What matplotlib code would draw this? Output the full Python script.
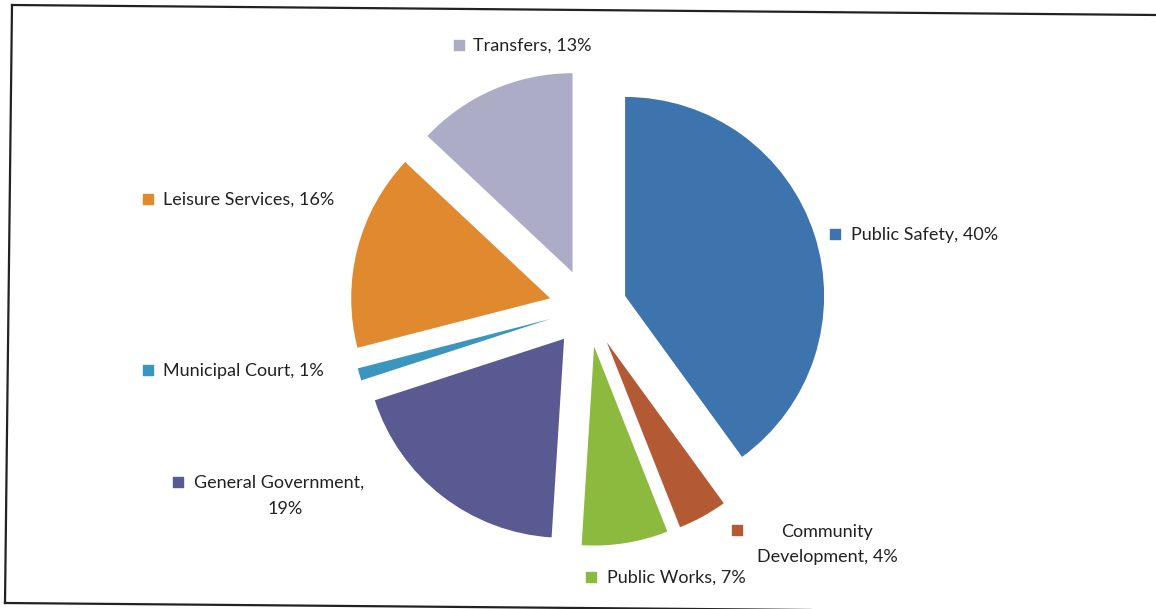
import matplotlib.pyplot as plt
from matplotlib.lines import Line2D

# slices, clockwise from 12 o'clock
categories = ["Public Safety", "Community\nDevelopment", "Public Works",
              "General Government,\n", "Municipal Court", "Leisure Services", "Transfers"]
shares = [40, 4, 7, 19, 1, 16, 13]
colors = ["#3e74ad", "#b35a35", "#8bba3e", "#5a5a92", "#3a95bf", "#e0892e", "#acacc6"]

plt.rcParams["font.family"] = ["Lato", "DejaVu Sans"]

W, H = 1156, 609
R = 199
fig = plt.figure(figsize=(W / 100, H / 100), dpi=100)
ax = fig.add_axes([0, 0, 1, 1])
ax.set_xlim(0, W)
ax.set_ylim(H, 0)
ax.set_aspect("equal")
ax.axis("off")

# pie drawn in its own axes so its direction is normal (y up)
pax = fig.add_axes([0, 0, 1, 1])
pax.pie(shares, colors=colors, startangle=90, counterclock=False,
        explode=[0.196 * R] * len(shares), radius=R, center=(588, H - 308),
        frame=True, wedgeprops=dict(linewidth=0))
pax.set_xlim(0, W)
pax.set_ylim(0, H)
pax.set_aspect("equal")
pax.axis("off")

# label placement (image pixel coords): marker x, y, text x, alignment
label_pos = [
    (835, 234, 851, "left"),
    (737, 530, 827, "center"),
    (591, 577, 607, "left"),
    (178, 482, 194, "left"),
    (148, 370, 163, "left"),
    (148, 199, 163, "left"),
    (459, 45, 473, "left"),
]

fs = 13
for name, val, col, (mx, my, tx, ha) in zip(categories, shares, colors, label_pos):
    ax.scatter([mx], [my], marker="s", s=45, color=col, zorder=5)
    if name.endswith("\n"):
        ax.text(tx, my + 1, name.strip(), ha="left", va="center", fontsize=fs, color="#222222")
        ax.text(tx + 91, my + 27, f"{val}%", ha="center", va="center", fontsize=fs, color="#222222")
    elif "\n" in name:
        first, second = name.split("\n")
        ax.text(tx, my + 2, first, ha="center", va="center", fontsize=fs, color="#222222")
        ax.text(tx, my + 27, f"{second}, {val}%", ha="center", va="center", fontsize=fs, color="#222222")
    else:
        ax.text(tx, my + 1, f"{name}, {val}%", ha="left", va="center", fontsize=fs, color="#222222")

# scanned frame (slightly skewed)
for (x0, y0), (x1, y1) in [((12, 5), (1156, 15)), ((12, 5), (5, 603)), ((5, 603), (1156, 613))]:
    ax.add_line(Line2D([x0, x1], [y0, y1], color="#222222", linewidth=1.6))

fig.savefig("out.png", dpi=100)
